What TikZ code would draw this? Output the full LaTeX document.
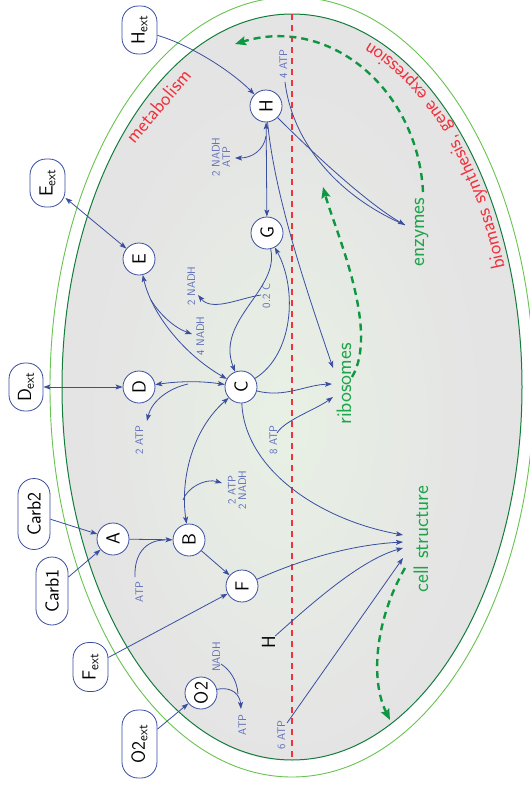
\documentclass[tikz,border=0pt]{standalone}
\usetikzlibrary{arrows.meta,decorations.text}
\definecolor{nblue}{RGB}{58,78,160}
\definecolor{lblue}{RGB}{95,110,185}
\definecolor{tgreen}{RGB}{30,165,75}
\definecolor{dgreen}{RGB}{15,150,65}
\definecolor{egreen}{RGB}{20,125,60}
\definecolor{lgreen}{RGB}{105,195,80}
\definecolor{rred}{RGB}{240,50,60}
\definecolor{fillc}{RGB}{228,228,228}
\definecolor{fillin}{RGB}{232,240,228}
\begin{document}
\begin{tikzpicture}[x=1pt,y=-1pt,
  circ/.style={circle,draw=nblue,fill=white,line width=0.8pt,minimum size=32pt,inner sep=0pt,rotate=90,font=\sffamily\fontsize{19}{19}\selectfont},
  ext/.style={rectangle,draw=nblue,fill=white,line width=0.8pt,rounded corners=16pt,minimum height=34pt,inner sep=0pt,rotate=90,font=\sffamily\fontsize{19}{19}\selectfont},
  lab/.style={text=lblue,font=\sffamily\fontsize{11}{10.5}\selectfont,rotate=90,inner sep=0pt,anchor=base},
  lab2/.style={text=lblue,font=\sffamily\fontsize{11}{10.5}\selectfont,rotate=90,inner sep=0pt,align=center},
  gtxt/.style={text=tgreen,font=\sffamily\fontsize{21}{21}\selectfont,rotate=90,inner sep=0pt,anchor=base},
  conn/.style={draw=nblue,line width=0.8pt},
  arr/.style={conn,-{Stealth[length=7pt,width=5pt,inset=1.5pt]}},
  darr/.style={conn,{Stealth[length=7pt,width=5pt,inset=1.5pt]}-{Stealth[length=7pt,width=5pt,inset=1.5pt]}},
  gdash/.style={draw=dgreen,line width=2.4pt,dash pattern=on 7pt off 5pt,-{Stealth[length=11pt,width=9pt,inset=2pt]}},
  rdash/.style={draw=rred,line width=1.3pt,dash pattern=on 6pt off 5pt},
]
\useasboundingbox (0,0) rectangle (530,790);
\fill[white] (0,0) rectangle (530,790);
% cell
\draw[lgreen,line width=0.9pt] (292,387) ellipse [x radius=242, y radius=390];
\fill[fillc] (292,387) ellipse [x radius=230, y radius=373];
\shade[inner color=fillin,outer color=fillc] (285,420) ellipse [x radius=200, y radius=340];
\draw[egreen,line width=1pt] (292,387) ellipse [x radius=230, y radius=373];
% red divider
\coordinate (rtop) at (292,14);
\coordinate (rbot) at (292,760);
\draw[rdash] (rtop) -- (rbot);
% region titles
\node[rotate=50,text=rred,font=\sffamily\fontsize{20}{20}\selectfont,inner sep=0pt] (metab) at (158,106) {metabolism};
\path[decorate,decoration={text along path,text align=left,
  text={|\sffamily\fontsize{20}{20}\selectfont\color{rred}|biomass synthesis{,} gene expression}}]
  (292,387) ++(-19:225 and 367) arc[start angle=-19,end angle=-100,x radius=225,y radius=367];
% nodes
\node[circ] (H) at (266,106) {H};
\node[circ] (G) at (267,233) {G};
\node[circ] (E) at (139,259) {E};
\node[circ] (D) at (139,387) {D};
\node[circ] (C) at (241,387) {C};
\node[circ] (A) at (113,539) {A};
\node[circ] (B) at (189,540) {B};
\node[circ] (F) at (242,586) {F};
\node[circ] (O2) at (201,693) {O2};
\node[ext,minimum width=48pt,minimum height=35pt] (Hext) at (139.5,30) {H\textsubscript{ext}};
\node[ext,minimum width=48pt,minimum height=35pt] (Eext) at (47.5,183) {E\textsubscript{ext}};
\node[ext,minimum width=48pt,minimum height=34pt] (Dext) at (26,387) {D\textsubscript{ext}};
\node[ext,minimum width=71pt,minimum height=32pt] (Carb2) at (34,514) {Carb2};
\node[ext,minimum width=68pt,minimum height=32pt] (Carb1) at (52,591) {Carb1};
\node[ext,minimum width=49pt,minimum height=35pt] (Fext) at (90.5,667) {F\textsubscript{ext}};
\node[ext,minimum width=68pt,minimum height=35pt] (O2ext) at (139.5,744) {O2\textsubscript{ext}};
% green products
\node[gtxt] (enzymes) at (424,232) {enzymes};
\node[gtxt] (ribosomes) at (351,384) {ribosomes};
\node[gtxt] (cellstr) at (428,539) {cell structure};
\node[rotate=90,anchor=base,inner sep=0pt,font=\sffamily\fontsize{19}{19}\selectfont] (Hl) at (275,642) {H};
% small labels
\node[lab] (l4atp) at (287,64) {4 ATP};
\node[lab2] (lhn) at (221,157) {2 NADH\\ATP};
\node[lab] (lgn) at (195,286) {2 NADH};
\node[lab] (l02c) at (270,296) {0.2 C};
\node[lab] (l4n) at (204,336) {4 NADH};
\node[lab] (l2atpD) at (143,440) {2 ATP};
\node[lab] (l8atp) at (277,440) {8 ATP};
\node[lab2] (lbn) at (237,490) {2 ATP\\2 NADH};
\node[lab] (latpA) at (143,592) {ATP};
\node[lab] (lnadhO) at (220,657) {NADH};
\node[lab] (latpO) at (246,725) {ATP};
\node[lab] (l6atp) at (285,735) {6 ATP};
% connector end points
\coordinate (enz) at (405,225);
\coordinate (atp4) at (285,82);
\coordinate (hg) at (266,136);
\coordinate (nadhH) at (235,158);
\coordinate (rib1) at (333,368);
\coordinate (rib2) at (332,384);
\coordinate (rib3) at (333,397);
\coordinate (atp8) at (277,433);
\coordinate (cs1) at (403,535);
\coordinate (cs2) at (403,542);
\coordinate (cs3) at (403,548);
\coordinate (cs4) at (403,558);
\coordinate (atp6) at (287,723);
\coordinate (ec) at (151,300);
\coordinate (nadhE4) at (192,334);
\coordinate (c02) at (261,295);
\coordinate (nadhG) at (198,295);
\coordinate (dc) at (188,384);
\coordinate (atpD) at (147,421);
\coordinate (bc) at (183,500);
\coordinate (atpB) at (222,483);
\coordinate (atpA) at (135,577);
\coordinate (ab) at (165,540);
\coordinate (nadhO) at (221,664);
\coordinate (oj) at (238,694);
\coordinate (atpO) at (241,709);
\coordinate (gs1) at (423,192);
\coordinate (ge1) at (235,44);
\coordinate (gs2) at (352,377);
\coordinate (ge2) at (323,187);
\coordinate (gs3) at (405,568);
\coordinate (ge3) at (390,720);
% connectors
\draw[arr] (Hext) .. controls (190,45) and (230,70) .. (H);
\draw[arr] (H) .. controls (320,160) and (370,205) .. (enz);
\draw[conn] (atp4) .. controls (292,140) and (335,195) .. (enz);
\draw[arr] (H) .. controls (275,200) and (310,300) .. (rib1);
\draw[darr] (H) -- (G);
\draw[arr] (hg) .. controls (264,150) and (252,158) .. (nadhH);
\draw[darr] (Eext) -- (E);
\draw[darr] (E) .. controls (152,315) and (185,355) .. (C);
\draw[arr] (ec) .. controls (160,315) and (175,328) .. (nadhE4);
\draw[arr] (G) .. controls (280,290) and (215,320) .. (C);
\draw[arr] (C) .. controls (293,355) and (298,290) .. (G);
\draw[arr] (c02) .. controls (240,298) and (212,312) .. (nadhG);
\draw[darr] (Dext) -- (D);
\draw[darr] (D) .. controls (180,381) and (202,381) .. (C);
\draw[arr] (dc) .. controls (170,388) and (152,400) .. (atpD);
\draw[darr] (C) .. controls (192,430) and (180,480) .. (B);
\draw[arr] (bc) .. controls (187,488) and (205,478) .. (atpB);
\draw[arr] (A) -- (B);
\draw[conn] (atpA) .. controls (134,555) and (145,540) .. (ab);
\draw[arr] (Carb2) -- (A);
\draw[arr] (Carb1) -- (A);
\draw[arr] (B) -- (F);
\draw[arr] (Fext) -- (F);
\draw[arr] (O2ext) -- (O2);
\draw[arr] (O2) .. controls (232,686) and (240,695) .. (atpO);
\draw[conn] (nadhO) .. controls (230,670) and (237,680) .. (oj);
\draw[arr] (C) .. controls (285,398) and (305,385) .. (rib2);
\draw[arr] (atp8) .. controls (285,420) and (315,410) .. (rib3);
\draw[arr] (C) .. controls (245,470) and (320,520) .. (cs1);
\draw[arr] (F) .. controls (300,560) and (350,545) .. (cs2);
\draw[arr] (Hl) .. controls (310,605) and (360,560) .. (cs3);
\draw[arr] (atp6) -- (cs4);
% green dashed flows
\draw[gdash] (gs1) .. controls (418,90) and (330,15) .. (ge1);
\draw[gdash] (gs2) .. controls (380,330) and (335,230) .. (ge2);
\draw[gdash] (gs3) .. controls (375,620) and (370,680) .. (ge3);
\end{tikzpicture}
\end{document}
